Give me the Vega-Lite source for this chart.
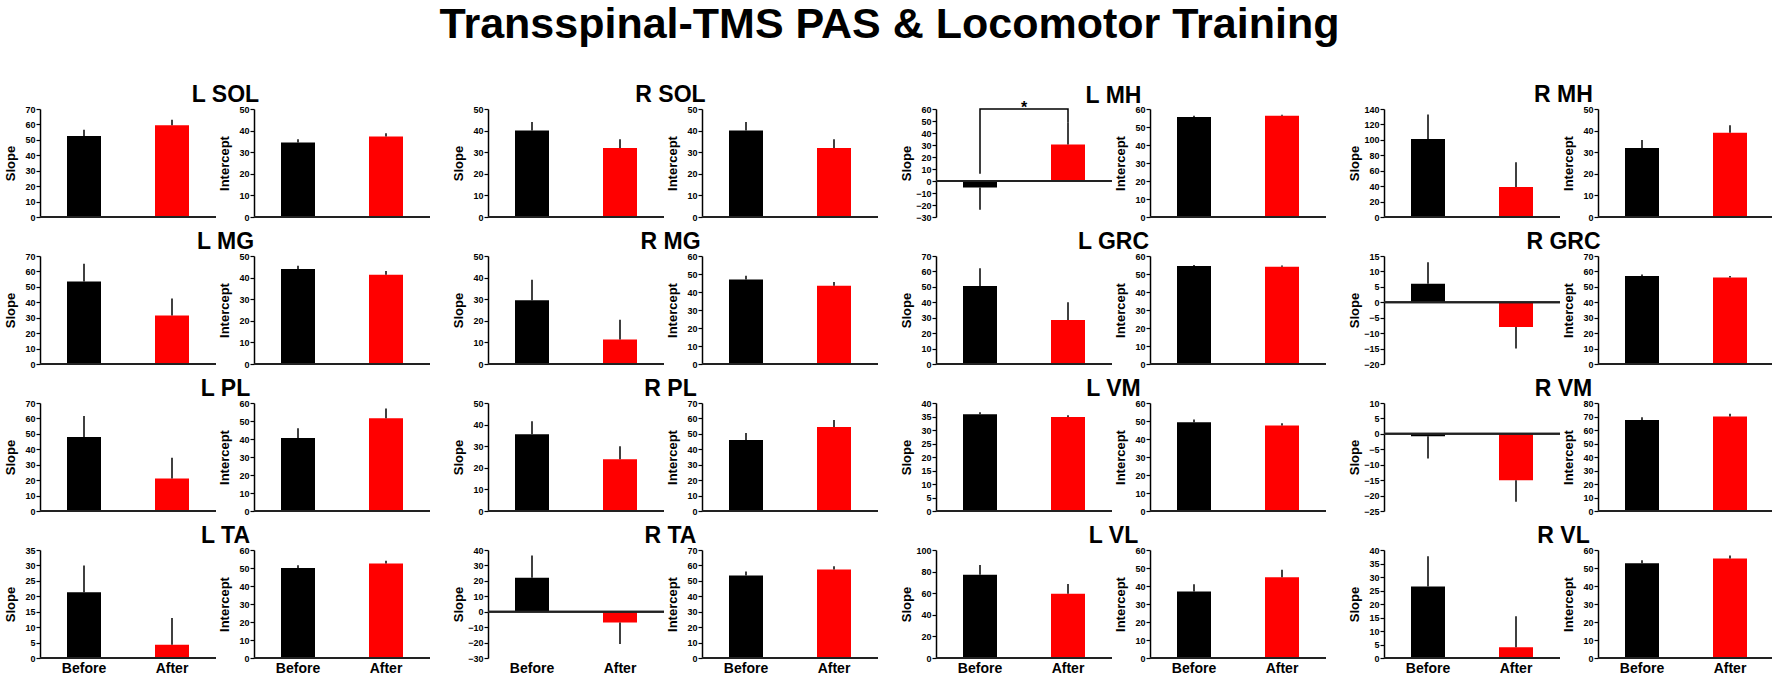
{
"$schema": "https://vega.github.io/schema/vega-lite/v6.json",
"padding": {"left": 4, "top": 4, "right": 2, "bottom": 2},
"title": {"text": "Transspinal-TMS PAS & Locomotor Training", "fontSize": 43, "offset": 37, "dx": 0, "dy": 0, "anchor": "middle"},
"data": {"values": [
{"m":"L SOL","k":"S","p":"Before","v":52.5,"h":56.5},{"m":"L SOL","k":"S","p":"After","v":59.5,"h":63},
{"m":"L SOL","k":"I","p":"Before","v":34.5,"h":36},{"m":"L SOL","k":"I","p":"After","v":37.3,"h":38.8},
{"m":"R SOL","k":"S","p":"Before","v":40,"h":44},{"m":"R SOL","k":"S","p":"After","v":32,"h":36},
{"m":"R SOL","k":"I","p":"Before","v":40,"h":44},{"m":"R SOL","k":"I","p":"After","v":32,"h":36},
{"m":"L MH","k":"S","p":"Before","v":-5.5,"h":-24},{"m":"L MH","k":"S","p":"After","v":30.5,"h":49},
{"m":"L MH","k":"I","p":"Before","v":55.5,"h":56.2},{"m":"L MH","k":"I","p":"After","v":56.2,"h":56.8},
{"m":"R MH","k":"S","p":"Before","v":101,"h":133},{"m":"R MH","k":"S","p":"After","v":39,"h":71},
{"m":"R MH","k":"I","p":"Before","v":32,"h":35.7},{"m":"R MH","k":"I","p":"After","v":39,"h":42.5},
{"m":"L MG","k":"S","p":"Before","v":53.5,"h":65},{"m":"L MG","k":"S","p":"After","v":31.5,"h":42.5},
{"m":"L MG","k":"I","p":"Before","v":44,"h":45.5},{"m":"L MG","k":"I","p":"After","v":41.3,"h":43},
{"m":"R MG","k":"S","p":"Before","v":29.5,"h":39},{"m":"R MG","k":"S","p":"After","v":11.3,"h":20.5},
{"m":"R MG","k":"I","p":"Before","v":47,"h":49},{"m":"R MG","k":"I","p":"After","v":43.5,"h":45.5},
{"m":"L GRC","k":"S","p":"Before","v":50.5,"h":62},{"m":"L GRC","k":"S","p":"After","v":28.5,"h":40},
{"m":"L GRC","k":"I","p":"Before","v":54.5,"h":55},{"m":"L GRC","k":"I","p":"After","v":54,"h":54.7},
{"m":"R GRC","k":"S","p":"Before","v":6,"h":13},{"m":"R GRC","k":"S","p":"After","v":-8,"h":-15},
{"m":"R GRC","k":"I","p":"Before","v":57,"h":58},{"m":"R GRC","k":"I","p":"After","v":56,"h":57},
{"m":"L PL","k":"S","p":"Before","v":48,"h":61.5},{"m":"L PL","k":"S","p":"After","v":21,"h":34.5},
{"m":"L PL","k":"I","p":"Before","v":40.5,"h":46},{"m":"L PL","k":"I","p":"After","v":51.5,"h":57},
{"m":"R PL","k":"S","p":"Before","v":35.5,"h":41.5},{"m":"R PL","k":"S","p":"After","v":24,"h":30},
{"m":"R PL","k":"I","p":"Before","v":46,"h":50.5},{"m":"R PL","k":"I","p":"After","v":54.5,"h":59},
{"m":"L VM","k":"S","p":"Before","v":35.8,"h":36.6},{"m":"L VM","k":"S","p":"After","v":34.8,"h":35.5},
{"m":"L VM","k":"I","p":"Before","v":49.3,"h":50.8},{"m":"L VM","k":"I","p":"After","v":47.5,"h":48.7},
{"m":"R VM","k":"S","p":"Before","v":-0.8,"h":-8},{"m":"R VM","k":"S","p":"After","v":-15,"h":-22},
{"m":"R VM","k":"I","p":"Before","v":67.5,"h":69.5},{"m":"R VM","k":"I","p":"After","v":70,"h":72},
{"m":"L TA","k":"S","p":"Before","v":21.3,"h":30},{"m":"L TA","k":"S","p":"After","v":4.3,"h":13},
{"m":"L TA","k":"I","p":"Before","v":50,"h":51.5},{"m":"L TA","k":"I","p":"After","v":52.5,"h":54},
{"m":"R TA","k":"S","p":"Before","v":22,"h":36.5},{"m":"R TA","k":"S","p":"After","v":-7,"h":-21},
{"m":"R TA","k":"I","p":"Before","v":53.5,"h":56},{"m":"R TA","k":"I","p":"After","v":57.3,"h":59.5},
{"m":"L VL","k":"S","p":"Before","v":77,"h":86},{"m":"L VL","k":"S","p":"After","v":59.5,"h":68.5},
{"m":"L VL","k":"I","p":"Before","v":37,"h":41},{"m":"L VL","k":"I","p":"After","v":44.8,"h":49},
{"m":"R VL","k":"S","p":"Before","v":26.5,"h":37.7},{"m":"R VL","k":"S","p":"After","v":4,"h":15.5},
{"m":"R VL","k":"I","p":"Before","v":52.7,"h":54.3},{"m":"R VL","k":"I","p":"After","v":55.3,"h":57}
]},
"spacing": 9,
"vconcat": [
{"spacing": 21, "hconcat": [
 {"title": {"text": "L SOL", "dx": 8, "dy": 6, "offset": 4}, "spacing": 1, "hconcat": [
  {"width":176,"height":108,"transform":[{"filter":"datum.m=='L SOL'&&datum.k=='S'"}],"layer":[
   {"mark":{"type":"bar","size":34},"encoding":{"x":{"field":"p","type":"nominal","sort":["Before","After"],"scale":{"paddingInner":0,"paddingOuter":0},"axis":null},"y":{"field":"v","type":"quantitative","scale":{"domain":[0,70]},"axis":{"title":"Slope","labelOverlap":false,"tickCount":20,"values":[0,10,20,30,40,50,60,70]}},"color":{"field":"p","type":"nominal","scale":{"domain":["Before","After"],"range":["#000000","#ff0000"]},"legend":null}}},
   {"mark":{"type":"rule","color":"#222","strokeWidth":2},"encoding":{"y":{"datum":0}}},
   {"mark":{"type":"rule","color":"#000","strokeWidth":1.5},"encoding":{"x":{"field":"p","type":"nominal","sort":["Before","After"],"scale":{"paddingInner":0,"paddingOuter":0},"axis":null},"y":{"field":"v","type":"quantitative"},"y2":{"field":"h"}}}]},
  {"width":176,"height":108,"transform":[{"filter":"datum.m=='L SOL'&&datum.k=='I'"}],"layer":[
   {"mark":{"type":"bar","size":34},"encoding":{"x":{"field":"p","type":"nominal","sort":["Before","After"],"scale":{"paddingInner":0,"paddingOuter":0},"axis":null},"y":{"field":"v","type":"quantitative","scale":{"domain":[0,50]},"axis":{"title":"Intercept","labelOverlap":false,"tickCount":20,"values":[0,10,20,30,40,50]}},"color":{"field":"p","type":"nominal","scale":{"domain":["Before","After"],"range":["#000000","#ff0000"]},"legend":null}}},
   {"mark":{"type":"rule","color":"#222","strokeWidth":2},"encoding":{"y":{"datum":0}}},
   {"mark":{"type":"rule","color":"#000","strokeWidth":1.5},"encoding":{"x":{"field":"p","type":"nominal","sort":["Before","After"],"scale":{"paddingInner":0,"paddingOuter":0},"axis":null},"y":{"field":"v","type":"quantitative"},"y2":{"field":"h"}}}]}
 ]},
 {"title": {"text": "R SOL", "dx": 5, "dy": 6, "offset": 4}, "spacing": 1, "hconcat": [
  {"width":176,"height":108,"transform":[{"filter":"datum.m=='R SOL'&&datum.k=='S'"}],"layer":[
   {"mark":{"type":"bar","size":34},"encoding":{"x":{"field":"p","type":"nominal","sort":["Before","After"],"scale":{"paddingInner":0,"paddingOuter":0},"axis":null},"y":{"field":"v","type":"quantitative","scale":{"domain":[0,50]},"axis":{"title":"Slope","labelOverlap":false,"tickCount":20,"values":[0,10,20,30,40,50]}},"color":{"field":"p","type":"nominal","scale":{"domain":["Before","After"],"range":["#000000","#ff0000"]},"legend":null}}},
   {"mark":{"type":"rule","color":"#222","strokeWidth":2},"encoding":{"y":{"datum":0}}},
   {"mark":{"type":"rule","color":"#000","strokeWidth":1.5},"encoding":{"x":{"field":"p","type":"nominal","sort":["Before","After"],"scale":{"paddingInner":0,"paddingOuter":0},"axis":null},"y":{"field":"v","type":"quantitative"},"y2":{"field":"h"}}}]},
  {"width":176,"height":108,"transform":[{"filter":"datum.m=='R SOL'&&datum.k=='I'"}],"layer":[
   {"mark":{"type":"bar","size":34},"encoding":{"x":{"field":"p","type":"nominal","sort":["Before","After"],"scale":{"paddingInner":0,"paddingOuter":0},"axis":null},"y":{"field":"v","type":"quantitative","scale":{"domain":[0,50]},"axis":{"title":"Intercept","labelOverlap":false,"tickCount":20,"values":[0,10,20,30,40,50]}},"color":{"field":"p","type":"nominal","scale":{"domain":["Before","After"],"range":["#000000","#ff0000"]},"legend":null}}},
   {"mark":{"type":"rule","color":"#222","strokeWidth":2},"encoding":{"y":{"datum":0}}},
   {"mark":{"type":"rule","color":"#000","strokeWidth":1.5},"encoding":{"x":{"field":"p","type":"nominal","sort":["Before","After"],"scale":{"paddingInner":0,"paddingOuter":0},"axis":null},"y":{"field":"v","type":"quantitative"},"y2":{"field":"h"}}}]}
 ]},
 {"title": {"text": "L MH", "dx": 0, "dy": 12, "offset": 4}, "spacing": 1, "hconcat": [
  {"width":176,"height":108,"transform":[{"filter":"datum.m=='L MH'&&datum.k=='S'"}],"layer":[
   {"mark":{"type":"bar","size":34},"encoding":{"x":{"field":"p","type":"nominal","sort":["Before","After"],"scale":{"paddingInner":0,"paddingOuter":0},"axis":null},"y":{"field":"v","type":"quantitative","scale":{"domain":[-30,60]},"axis":{"title":"Slope","labelOverlap":false,"tickCount":20,"values":[-30,-20,-10,0,10,20,30,40,50,60]}},"color":{"field":"p","type":"nominal","scale":{"domain":["Before","After"],"range":["#000000","#ff0000"]},"legend":null}}},
   {"mark":{"type":"rule","color":"#222","strokeWidth":2},"encoding":{"y":{"datum":0}}},
   {"mark":{"type":"rule","color":"#000","strokeWidth":1.5},"encoding":{"x":{"field":"p","type":"nominal","sort":["Before","After"],"scale":{"paddingInner":0,"paddingOuter":0},"axis":null},"y":{"field":"v","type":"quantitative"},"y2":{"field":"h"}}},
   {"data":{"values":[{"m":"L MH","k":"S","p":"Before","b":6,"o":1},{"m":"L MH","k":"S","p":"Before","b":60,"o":2},{"m":"L MH","k":"S","p":"After","b":60,"o":3},{"m":"L MH","k":"S","p":"After","b":49,"o":4}]},"mark":{"type":"line","color":"#000","strokeWidth":1.5},"encoding":{"x":{"field":"p","type":"nominal","sort":["Before","After"],"scale":{"paddingInner":0,"paddingOuter":0},"axis":null},"y":{"field":"b","type":"quantitative"},"order":{"field":"o","type":"quantitative"}}},
   {"data":{"values":[{"m":"L MH","k":"S","p":"Before","b":60,"t":"*"}]},"mark":{"type":"text","dx":44,"dy":4,"baseline":"alphabetic","fontSize":16,"fontWeight":"bold","color":"#000"},"encoding":{"x":{"field":"p","type":"nominal","sort":["Before","After"],"scale":{"paddingInner":0,"paddingOuter":0},"axis":null},"y":{"field":"b","type":"quantitative"},"text":{"field":"t","type":"nominal"}}}]},
  {"width":176,"height":108,"transform":[{"filter":"datum.m=='L MH'&&datum.k=='I'"}],"layer":[
   {"mark":{"type":"bar","size":34},"encoding":{"x":{"field":"p","type":"nominal","sort":["Before","After"],"scale":{"paddingInner":0,"paddingOuter":0},"axis":null},"y":{"field":"v","type":"quantitative","scale":{"domain":[0,60]},"axis":{"title":"Intercept","labelOverlap":false,"tickCount":20,"values":[0,10,20,30,40,50,60]}},"color":{"field":"p","type":"nominal","scale":{"domain":["Before","After"],"range":["#000000","#ff0000"]},"legend":null}}},
   {"mark":{"type":"rule","color":"#222","strokeWidth":2},"encoding":{"y":{"datum":0}}},
   {"mark":{"type":"rule","color":"#000","strokeWidth":1.5},"encoding":{"x":{"field":"p","type":"nominal","sort":["Before","After"],"scale":{"paddingInner":0,"paddingOuter":0},"axis":null},"y":{"field":"v","type":"quantitative"},"y2":{"field":"h"}}}]}
 ]},
 {"title": {"text": "R MH", "dx": 2, "dy": 6, "offset": 4}, "spacing": 1, "hconcat": [
  {"width":176,"height":108,"transform":[{"filter":"datum.m=='R MH'&&datum.k=='S'"}],"layer":[
   {"mark":{"type":"bar","size":34},"encoding":{"x":{"field":"p","type":"nominal","sort":["Before","After"],"scale":{"paddingInner":0,"paddingOuter":0},"axis":null},"y":{"field":"v","type":"quantitative","scale":{"domain":[0,140]},"axis":{"title":"Slope","labelOverlap":false,"tickCount":20,"values":[0,20,40,60,80,100,120,140]}},"color":{"field":"p","type":"nominal","scale":{"domain":["Before","After"],"range":["#000000","#ff0000"]},"legend":null}}},
   {"mark":{"type":"rule","color":"#222","strokeWidth":2},"encoding":{"y":{"datum":0}}},
   {"mark":{"type":"rule","color":"#000","strokeWidth":1.5},"encoding":{"x":{"field":"p","type":"nominal","sort":["Before","After"],"scale":{"paddingInner":0,"paddingOuter":0},"axis":null},"y":{"field":"v","type":"quantitative"},"y2":{"field":"h"}}}]},
  {"width":176,"height":108,"transform":[{"filter":"datum.m=='R MH'&&datum.k=='I'"}],"layer":[
   {"mark":{"type":"bar","size":34},"encoding":{"x":{"field":"p","type":"nominal","sort":["Before","After"],"scale":{"paddingInner":0,"paddingOuter":0},"axis":null},"y":{"field":"v","type":"quantitative","scale":{"domain":[0,50]},"axis":{"title":"Intercept","labelOverlap":false,"tickCount":20,"values":[0,10,20,30,40,50]}},"color":{"field":"p","type":"nominal","scale":{"domain":["Before","After"],"range":["#000000","#ff0000"]},"legend":null}}},
   {"mark":{"type":"rule","color":"#222","strokeWidth":2},"encoding":{"y":{"datum":0}}},
   {"mark":{"type":"rule","color":"#000","strokeWidth":1.5},"encoding":{"x":{"field":"p","type":"nominal","sort":["Before","After"],"scale":{"paddingInner":0,"paddingOuter":0},"axis":null},"y":{"field":"v","type":"quantitative"},"y2":{"field":"h"}}}]}
 ]}
]},
{"spacing": 21, "hconcat": [
 {"title": {"text": "L MG", "dx": 8, "dy": 6, "offset": 4}, "spacing": 1, "hconcat": [
  {"width":176,"height":108,"transform":[{"filter":"datum.m=='L MG'&&datum.k=='S'"}],"layer":[
   {"mark":{"type":"bar","size":34},"encoding":{"x":{"field":"p","type":"nominal","sort":["Before","After"],"scale":{"paddingInner":0,"paddingOuter":0},"axis":null},"y":{"field":"v","type":"quantitative","scale":{"domain":[0,70]},"axis":{"title":"Slope","labelOverlap":false,"tickCount":20,"values":[0,10,20,30,40,50,60,70]}},"color":{"field":"p","type":"nominal","scale":{"domain":["Before","After"],"range":["#000000","#ff0000"]},"legend":null}}},
   {"mark":{"type":"rule","color":"#222","strokeWidth":2},"encoding":{"y":{"datum":0}}},
   {"mark":{"type":"rule","color":"#000","strokeWidth":1.5},"encoding":{"x":{"field":"p","type":"nominal","sort":["Before","After"],"scale":{"paddingInner":0,"paddingOuter":0},"axis":null},"y":{"field":"v","type":"quantitative"},"y2":{"field":"h"}}}]},
  {"width":176,"height":108,"transform":[{"filter":"datum.m=='L MG'&&datum.k=='I'"}],"layer":[
   {"mark":{"type":"bar","size":34},"encoding":{"x":{"field":"p","type":"nominal","sort":["Before","After"],"scale":{"paddingInner":0,"paddingOuter":0},"axis":null},"y":{"field":"v","type":"quantitative","scale":{"domain":[0,50]},"axis":{"title":"Intercept","labelOverlap":false,"tickCount":20,"values":[0,10,20,30,40,50]}},"color":{"field":"p","type":"nominal","scale":{"domain":["Before","After"],"range":["#000000","#ff0000"]},"legend":null}}},
   {"mark":{"type":"rule","color":"#222","strokeWidth":2},"encoding":{"y":{"datum":0}}},
   {"mark":{"type":"rule","color":"#000","strokeWidth":1.5},"encoding":{"x":{"field":"p","type":"nominal","sort":["Before","After"],"scale":{"paddingInner":0,"paddingOuter":0},"axis":null},"y":{"field":"v","type":"quantitative"},"y2":{"field":"h"}}}]}
 ]},
 {"title": {"text": "R MG", "dx": 5, "dy": 6, "offset": 4}, "spacing": 1, "hconcat": [
  {"width":176,"height":108,"transform":[{"filter":"datum.m=='R MG'&&datum.k=='S'"}],"layer":[
   {"mark":{"type":"bar","size":34},"encoding":{"x":{"field":"p","type":"nominal","sort":["Before","After"],"scale":{"paddingInner":0,"paddingOuter":0},"axis":null},"y":{"field":"v","type":"quantitative","scale":{"domain":[0,50]},"axis":{"title":"Slope","labelOverlap":false,"tickCount":20,"values":[0,10,20,30,40,50]}},"color":{"field":"p","type":"nominal","scale":{"domain":["Before","After"],"range":["#000000","#ff0000"]},"legend":null}}},
   {"mark":{"type":"rule","color":"#222","strokeWidth":2},"encoding":{"y":{"datum":0}}},
   {"mark":{"type":"rule","color":"#000","strokeWidth":1.5},"encoding":{"x":{"field":"p","type":"nominal","sort":["Before","After"],"scale":{"paddingInner":0,"paddingOuter":0},"axis":null},"y":{"field":"v","type":"quantitative"},"y2":{"field":"h"}}}]},
  {"width":176,"height":108,"transform":[{"filter":"datum.m=='R MG'&&datum.k=='I'"}],"layer":[
   {"mark":{"type":"bar","size":34},"encoding":{"x":{"field":"p","type":"nominal","sort":["Before","After"],"scale":{"paddingInner":0,"paddingOuter":0},"axis":null},"y":{"field":"v","type":"quantitative","scale":{"domain":[0,60]},"axis":{"title":"Intercept","labelOverlap":false,"tickCount":20,"values":[0,10,20,30,40,50,60]}},"color":{"field":"p","type":"nominal","scale":{"domain":["Before","After"],"range":["#000000","#ff0000"]},"legend":null}}},
   {"mark":{"type":"rule","color":"#222","strokeWidth":2},"encoding":{"y":{"datum":0}}},
   {"mark":{"type":"rule","color":"#000","strokeWidth":1.5},"encoding":{"x":{"field":"p","type":"nominal","sort":["Before","After"],"scale":{"paddingInner":0,"paddingOuter":0},"axis":null},"y":{"field":"v","type":"quantitative"},"y2":{"field":"h"}}}]}
 ]},
 {"title": {"text": "L GRC", "dx": 0, "dy": 6, "offset": 4}, "spacing": 1, "hconcat": [
  {"width":176,"height":108,"transform":[{"filter":"datum.m=='L GRC'&&datum.k=='S'"}],"layer":[
   {"mark":{"type":"bar","size":34},"encoding":{"x":{"field":"p","type":"nominal","sort":["Before","After"],"scale":{"paddingInner":0,"paddingOuter":0},"axis":null},"y":{"field":"v","type":"quantitative","scale":{"domain":[0,70]},"axis":{"title":"Slope","labelOverlap":false,"tickCount":20,"values":[0,10,20,30,40,50,60,70]}},"color":{"field":"p","type":"nominal","scale":{"domain":["Before","After"],"range":["#000000","#ff0000"]},"legend":null}}},
   {"mark":{"type":"rule","color":"#222","strokeWidth":2},"encoding":{"y":{"datum":0}}},
   {"mark":{"type":"rule","color":"#000","strokeWidth":1.5},"encoding":{"x":{"field":"p","type":"nominal","sort":["Before","After"],"scale":{"paddingInner":0,"paddingOuter":0},"axis":null},"y":{"field":"v","type":"quantitative"},"y2":{"field":"h"}}}]},
  {"width":176,"height":108,"transform":[{"filter":"datum.m=='L GRC'&&datum.k=='I'"}],"layer":[
   {"mark":{"type":"bar","size":34},"encoding":{"x":{"field":"p","type":"nominal","sort":["Before","After"],"scale":{"paddingInner":0,"paddingOuter":0},"axis":null},"y":{"field":"v","type":"quantitative","scale":{"domain":[0,60]},"axis":{"title":"Intercept","labelOverlap":false,"tickCount":20,"values":[0,10,20,30,40,50,60]}},"color":{"field":"p","type":"nominal","scale":{"domain":["Before","After"],"range":["#000000","#ff0000"]},"legend":null}}},
   {"mark":{"type":"rule","color":"#222","strokeWidth":2},"encoding":{"y":{"datum":0}}},
   {"mark":{"type":"rule","color":"#000","strokeWidth":1.5},"encoding":{"x":{"field":"p","type":"nominal","sort":["Before","After"],"scale":{"paddingInner":0,"paddingOuter":0},"axis":null},"y":{"field":"v","type":"quantitative"},"y2":{"field":"h"}}}]}
 ]},
 {"title": {"text": "R GRC", "dx": 2, "dy": 6, "offset": 4}, "spacing": 1, "hconcat": [
  {"width":176,"height":108,"transform":[{"filter":"datum.m=='R GRC'&&datum.k=='S'"}],"layer":[
   {"mark":{"type":"bar","size":34},"encoding":{"x":{"field":"p","type":"nominal","sort":["Before","After"],"scale":{"paddingInner":0,"paddingOuter":0},"axis":null},"y":{"field":"v","type":"quantitative","scale":{"domain":[-20,15]},"axis":{"title":"Slope","labelOverlap":false,"tickCount":20,"values":[-20,-15,-10,-5,0,5,10,15]}},"color":{"field":"p","type":"nominal","scale":{"domain":["Before","After"],"range":["#000000","#ff0000"]},"legend":null}}},
   {"mark":{"type":"rule","color":"#222","strokeWidth":2},"encoding":{"y":{"datum":0}}},
   {"mark":{"type":"rule","color":"#000","strokeWidth":1.5},"encoding":{"x":{"field":"p","type":"nominal","sort":["Before","After"],"scale":{"paddingInner":0,"paddingOuter":0},"axis":null},"y":{"field":"v","type":"quantitative"},"y2":{"field":"h"}}}]},
  {"width":176,"height":108,"transform":[{"filter":"datum.m=='R GRC'&&datum.k=='I'"}],"layer":[
   {"mark":{"type":"bar","size":34},"encoding":{"x":{"field":"p","type":"nominal","sort":["Before","After"],"scale":{"paddingInner":0,"paddingOuter":0},"axis":null},"y":{"field":"v","type":"quantitative","scale":{"domain":[0,70]},"axis":{"title":"Intercept","labelOverlap":false,"tickCount":20,"values":[0,10,20,30,40,50,60,70]}},"color":{"field":"p","type":"nominal","scale":{"domain":["Before","After"],"range":["#000000","#ff0000"]},"legend":null}}},
   {"mark":{"type":"rule","color":"#222","strokeWidth":2},"encoding":{"y":{"datum":0}}},
   {"mark":{"type":"rule","color":"#000","strokeWidth":1.5},"encoding":{"x":{"field":"p","type":"nominal","sort":["Before","After"],"scale":{"paddingInner":0,"paddingOuter":0},"axis":null},"y":{"field":"v","type":"quantitative"},"y2":{"field":"h"}}}]}
 ]}
]},
{"spacing": 21, "hconcat": [
 {"title": {"text": "L PL", "dx": 8, "dy": 6, "offset": 4}, "spacing": 1, "hconcat": [
  {"width":176,"height":108,"transform":[{"filter":"datum.m=='L PL'&&datum.k=='S'"}],"layer":[
   {"mark":{"type":"bar","size":34},"encoding":{"x":{"field":"p","type":"nominal","sort":["Before","After"],"scale":{"paddingInner":0,"paddingOuter":0},"axis":null},"y":{"field":"v","type":"quantitative","scale":{"domain":[0,70]},"axis":{"title":"Slope","labelOverlap":false,"tickCount":20,"values":[0,10,20,30,40,50,60,70]}},"color":{"field":"p","type":"nominal","scale":{"domain":["Before","After"],"range":["#000000","#ff0000"]},"legend":null}}},
   {"mark":{"type":"rule","color":"#222","strokeWidth":2},"encoding":{"y":{"datum":0}}},
   {"mark":{"type":"rule","color":"#000","strokeWidth":1.5},"encoding":{"x":{"field":"p","type":"nominal","sort":["Before","After"],"scale":{"paddingInner":0,"paddingOuter":0},"axis":null},"y":{"field":"v","type":"quantitative"},"y2":{"field":"h"}}}]},
  {"width":176,"height":108,"transform":[{"filter":"datum.m=='L PL'&&datum.k=='I'"}],"layer":[
   {"mark":{"type":"bar","size":34},"encoding":{"x":{"field":"p","type":"nominal","sort":["Before","After"],"scale":{"paddingInner":0,"paddingOuter":0},"axis":null},"y":{"field":"v","type":"quantitative","scale":{"domain":[0,60]},"axis":{"title":"Intercept","labelOverlap":false,"tickCount":20,"values":[0,10,20,30,40,50,60]}},"color":{"field":"p","type":"nominal","scale":{"domain":["Before","After"],"range":["#000000","#ff0000"]},"legend":null}}},
   {"mark":{"type":"rule","color":"#222","strokeWidth":2},"encoding":{"y":{"datum":0}}},
   {"mark":{"type":"rule","color":"#000","strokeWidth":1.5},"encoding":{"x":{"field":"p","type":"nominal","sort":["Before","After"],"scale":{"paddingInner":0,"paddingOuter":0},"axis":null},"y":{"field":"v","type":"quantitative"},"y2":{"field":"h"}}}]}
 ]},
 {"title": {"text": "R PL", "dx": 5, "dy": 6, "offset": 4}, "spacing": 1, "hconcat": [
  {"width":176,"height":108,"transform":[{"filter":"datum.m=='R PL'&&datum.k=='S'"}],"layer":[
   {"mark":{"type":"bar","size":34},"encoding":{"x":{"field":"p","type":"nominal","sort":["Before","After"],"scale":{"paddingInner":0,"paddingOuter":0},"axis":null},"y":{"field":"v","type":"quantitative","scale":{"domain":[0,50]},"axis":{"title":"Slope","labelOverlap":false,"tickCount":20,"values":[0,10,20,30,40,50]}},"color":{"field":"p","type":"nominal","scale":{"domain":["Before","After"],"range":["#000000","#ff0000"]},"legend":null}}},
   {"mark":{"type":"rule","color":"#222","strokeWidth":2},"encoding":{"y":{"datum":0}}},
   {"mark":{"type":"rule","color":"#000","strokeWidth":1.5},"encoding":{"x":{"field":"p","type":"nominal","sort":["Before","After"],"scale":{"paddingInner":0,"paddingOuter":0},"axis":null},"y":{"field":"v","type":"quantitative"},"y2":{"field":"h"}}}]},
  {"width":176,"height":108,"transform":[{"filter":"datum.m=='R PL'&&datum.k=='I'"}],"layer":[
   {"mark":{"type":"bar","size":34},"encoding":{"x":{"field":"p","type":"nominal","sort":["Before","After"],"scale":{"paddingInner":0,"paddingOuter":0},"axis":null},"y":{"field":"v","type":"quantitative","scale":{"domain":[0,70]},"axis":{"title":"Intercept","labelOverlap":false,"tickCount":20,"values":[0,10,20,30,40,50,60,70]}},"color":{"field":"p","type":"nominal","scale":{"domain":["Before","After"],"range":["#000000","#ff0000"]},"legend":null}}},
   {"mark":{"type":"rule","color":"#222","strokeWidth":2},"encoding":{"y":{"datum":0}}},
   {"mark":{"type":"rule","color":"#000","strokeWidth":1.5},"encoding":{"x":{"field":"p","type":"nominal","sort":["Before","After"],"scale":{"paddingInner":0,"paddingOuter":0},"axis":null},"y":{"field":"v","type":"quantitative"},"y2":{"field":"h"}}}]}
 ]},
 {"title": {"text": "L VM", "dx": 0, "dy": 6, "offset": 4}, "spacing": 1, "hconcat": [
  {"width":176,"height":108,"transform":[{"filter":"datum.m=='L VM'&&datum.k=='S'"}],"layer":[
   {"mark":{"type":"bar","size":34},"encoding":{"x":{"field":"p","type":"nominal","sort":["Before","After"],"scale":{"paddingInner":0,"paddingOuter":0},"axis":null},"y":{"field":"v","type":"quantitative","scale":{"domain":[0,40]},"axis":{"title":"Slope","labelOverlap":false,"tickCount":20,"values":[0,5,10,15,20,25,30,35,40]}},"color":{"field":"p","type":"nominal","scale":{"domain":["Before","After"],"range":["#000000","#ff0000"]},"legend":null}}},
   {"mark":{"type":"rule","color":"#222","strokeWidth":2},"encoding":{"y":{"datum":0}}},
   {"mark":{"type":"rule","color":"#000","strokeWidth":1.5},"encoding":{"x":{"field":"p","type":"nominal","sort":["Before","After"],"scale":{"paddingInner":0,"paddingOuter":0},"axis":null},"y":{"field":"v","type":"quantitative"},"y2":{"field":"h"}}}]},
  {"width":176,"height":108,"transform":[{"filter":"datum.m=='L VM'&&datum.k=='I'"}],"layer":[
   {"mark":{"type":"bar","size":34},"encoding":{"x":{"field":"p","type":"nominal","sort":["Before","After"],"scale":{"paddingInner":0,"paddingOuter":0},"axis":null},"y":{"field":"v","type":"quantitative","scale":{"domain":[0,60]},"axis":{"title":"Intercept","labelOverlap":false,"tickCount":20,"values":[0,10,20,30,40,50,60]}},"color":{"field":"p","type":"nominal","scale":{"domain":["Before","After"],"range":["#000000","#ff0000"]},"legend":null}}},
   {"mark":{"type":"rule","color":"#222","strokeWidth":2},"encoding":{"y":{"datum":0}}},
   {"mark":{"type":"rule","color":"#000","strokeWidth":1.5},"encoding":{"x":{"field":"p","type":"nominal","sort":["Before","After"],"scale":{"paddingInner":0,"paddingOuter":0},"axis":null},"y":{"field":"v","type":"quantitative"},"y2":{"field":"h"}}}]}
 ]},
 {"title": {"text": "R VM", "dx": 2, "dy": 6, "offset": 4}, "spacing": 1, "hconcat": [
  {"width":176,"height":108,"transform":[{"filter":"datum.m=='R VM'&&datum.k=='S'"}],"layer":[
   {"mark":{"type":"bar","size":34},"encoding":{"x":{"field":"p","type":"nominal","sort":["Before","After"],"scale":{"paddingInner":0,"paddingOuter":0},"axis":null},"y":{"field":"v","type":"quantitative","scale":{"domain":[-25,10]},"axis":{"title":"Slope","labelOverlap":false,"tickCount":20,"values":[-25,-20,-15,-10,-5,0,5,10]}},"color":{"field":"p","type":"nominal","scale":{"domain":["Before","After"],"range":["#000000","#ff0000"]},"legend":null}}},
   {"mark":{"type":"rule","color":"#222","strokeWidth":2},"encoding":{"y":{"datum":0}}},
   {"mark":{"type":"rule","color":"#000","strokeWidth":1.5},"encoding":{"x":{"field":"p","type":"nominal","sort":["Before","After"],"scale":{"paddingInner":0,"paddingOuter":0},"axis":null},"y":{"field":"v","type":"quantitative"},"y2":{"field":"h"}}}]},
  {"width":176,"height":108,"transform":[{"filter":"datum.m=='R VM'&&datum.k=='I'"}],"layer":[
   {"mark":{"type":"bar","size":34},"encoding":{"x":{"field":"p","type":"nominal","sort":["Before","After"],"scale":{"paddingInner":0,"paddingOuter":0},"axis":null},"y":{"field":"v","type":"quantitative","scale":{"domain":[0,80]},"axis":{"title":"Intercept","labelOverlap":false,"tickCount":20,"values":[0,10,20,30,40,50,60,70,80]}},"color":{"field":"p","type":"nominal","scale":{"domain":["Before","After"],"range":["#000000","#ff0000"]},"legend":null}}},
   {"mark":{"type":"rule","color":"#222","strokeWidth":2},"encoding":{"y":{"datum":0}}},
   {"mark":{"type":"rule","color":"#000","strokeWidth":1.5},"encoding":{"x":{"field":"p","type":"nominal","sort":["Before","After"],"scale":{"paddingInner":0,"paddingOuter":0},"axis":null},"y":{"field":"v","type":"quantitative"},"y2":{"field":"h"}}}]}
 ]}
]},
{"spacing": 21, "hconcat": [
 {"title": {"text": "L TA", "dx": 8, "dy": 6, "offset": 4}, "spacing": 1, "hconcat": [
  {"width":176,"height":108,"transform":[{"filter":"datum.m=='L TA'&&datum.k=='S'"}],"layer":[
   {"mark":{"type":"bar","size":34},"encoding":{"x":{"field":"p","type":"nominal","sort":["Before","After"],"scale":{"paddingInner":0,"paddingOuter":0},"axis":{"title":null}},"y":{"field":"v","type":"quantitative","scale":{"domain":[0,35]},"axis":{"title":"Slope","labelOverlap":false,"tickCount":20,"values":[0,5,10,15,20,25,30,35]}},"color":{"field":"p","type":"nominal","scale":{"domain":["Before","After"],"range":["#000000","#ff0000"]},"legend":null}}},
   {"mark":{"type":"rule","color":"#222","strokeWidth":2},"encoding":{"y":{"datum":0}}},
   {"mark":{"type":"rule","color":"#000","strokeWidth":1.5},"encoding":{"x":{"field":"p","type":"nominal","sort":["Before","After"],"scale":{"paddingInner":0,"paddingOuter":0},"axis":{"title":null}},"y":{"field":"v","type":"quantitative"},"y2":{"field":"h"}}}]},
  {"width":176,"height":108,"transform":[{"filter":"datum.m=='L TA'&&datum.k=='I'"}],"layer":[
   {"mark":{"type":"bar","size":34},"encoding":{"x":{"field":"p","type":"nominal","sort":["Before","After"],"scale":{"paddingInner":0,"paddingOuter":0},"axis":{"title":null}},"y":{"field":"v","type":"quantitative","scale":{"domain":[0,60]},"axis":{"title":"Intercept","labelOverlap":false,"tickCount":20,"values":[0,10,20,30,40,50,60]}},"color":{"field":"p","type":"nominal","scale":{"domain":["Before","After"],"range":["#000000","#ff0000"]},"legend":null}}},
   {"mark":{"type":"rule","color":"#222","strokeWidth":2},"encoding":{"y":{"datum":0}}},
   {"mark":{"type":"rule","color":"#000","strokeWidth":1.5},"encoding":{"x":{"field":"p","type":"nominal","sort":["Before","After"],"scale":{"paddingInner":0,"paddingOuter":0},"axis":{"title":null}},"y":{"field":"v","type":"quantitative"},"y2":{"field":"h"}}}]}
 ]},
 {"title": {"text": "R TA", "dx": 5, "dy": 6, "offset": 4}, "spacing": 1, "hconcat": [
  {"width":176,"height":108,"transform":[{"filter":"datum.m=='R TA'&&datum.k=='S'"}],"layer":[
   {"mark":{"type":"bar","size":34},"encoding":{"x":{"field":"p","type":"nominal","sort":["Before","After"],"scale":{"paddingInner":0,"paddingOuter":0},"axis":{"title":null}},"y":{"field":"v","type":"quantitative","scale":{"domain":[-30,40]},"axis":{"title":"Slope","labelOverlap":false,"tickCount":20,"values":[-30,-20,-10,0,10,20,30,40]}},"color":{"field":"p","type":"nominal","scale":{"domain":["Before","After"],"range":["#000000","#ff0000"]},"legend":null}}},
   {"mark":{"type":"rule","color":"#222","strokeWidth":2},"encoding":{"y":{"datum":0}}},
   {"mark":{"type":"rule","color":"#000","strokeWidth":1.5},"encoding":{"x":{"field":"p","type":"nominal","sort":["Before","After"],"scale":{"paddingInner":0,"paddingOuter":0},"axis":{"title":null}},"y":{"field":"v","type":"quantitative"},"y2":{"field":"h"}}}]},
  {"width":176,"height":108,"transform":[{"filter":"datum.m=='R TA'&&datum.k=='I'"}],"layer":[
   {"mark":{"type":"bar","size":34},"encoding":{"x":{"field":"p","type":"nominal","sort":["Before","After"],"scale":{"paddingInner":0,"paddingOuter":0},"axis":{"title":null}},"y":{"field":"v","type":"quantitative","scale":{"domain":[0,70]},"axis":{"title":"Intercept","labelOverlap":false,"tickCount":20,"values":[0,10,20,30,40,50,60,70]}},"color":{"field":"p","type":"nominal","scale":{"domain":["Before","After"],"range":["#000000","#ff0000"]},"legend":null}}},
   {"mark":{"type":"rule","color":"#222","strokeWidth":2},"encoding":{"y":{"datum":0}}},
   {"mark":{"type":"rule","color":"#000","strokeWidth":1.5},"encoding":{"x":{"field":"p","type":"nominal","sort":["Before","After"],"scale":{"paddingInner":0,"paddingOuter":0},"axis":{"title":null}},"y":{"field":"v","type":"quantitative"},"y2":{"field":"h"}}}]}
 ]},
 {"title": {"text": "L VL", "dx": 0, "dy": 6, "offset": 4}, "spacing": 1, "hconcat": [
  {"width":176,"height":108,"transform":[{"filter":"datum.m=='L VL'&&datum.k=='S'"}],"layer":[
   {"mark":{"type":"bar","size":34},"encoding":{"x":{"field":"p","type":"nominal","sort":["Before","After"],"scale":{"paddingInner":0,"paddingOuter":0},"axis":{"title":null}},"y":{"field":"v","type":"quantitative","scale":{"domain":[0,100]},"axis":{"title":"Slope","labelOverlap":false,"tickCount":20,"values":[0,20,40,60,80,100]}},"color":{"field":"p","type":"nominal","scale":{"domain":["Before","After"],"range":["#000000","#ff0000"]},"legend":null}}},
   {"mark":{"type":"rule","color":"#222","strokeWidth":2},"encoding":{"y":{"datum":0}}},
   {"mark":{"type":"rule","color":"#000","strokeWidth":1.5},"encoding":{"x":{"field":"p","type":"nominal","sort":["Before","After"],"scale":{"paddingInner":0,"paddingOuter":0},"axis":{"title":null}},"y":{"field":"v","type":"quantitative"},"y2":{"field":"h"}}}]},
  {"width":176,"height":108,"transform":[{"filter":"datum.m=='L VL'&&datum.k=='I'"}],"layer":[
   {"mark":{"type":"bar","size":34},"encoding":{"x":{"field":"p","type":"nominal","sort":["Before","After"],"scale":{"paddingInner":0,"paddingOuter":0},"axis":{"title":null}},"y":{"field":"v","type":"quantitative","scale":{"domain":[0,60]},"axis":{"title":"Intercept","labelOverlap":false,"tickCount":20,"values":[0,10,20,30,40,50,60]}},"color":{"field":"p","type":"nominal","scale":{"domain":["Before","After"],"range":["#000000","#ff0000"]},"legend":null}}},
   {"mark":{"type":"rule","color":"#222","strokeWidth":2},"encoding":{"y":{"datum":0}}},
   {"mark":{"type":"rule","color":"#000","strokeWidth":1.5},"encoding":{"x":{"field":"p","type":"nominal","sort":["Before","After"],"scale":{"paddingInner":0,"paddingOuter":0},"axis":{"title":null}},"y":{"field":"v","type":"quantitative"},"y2":{"field":"h"}}}]}
 ]},
 {"title": {"text": "R VL", "dx": 2, "dy": 6, "offset": 4}, "spacing": 1, "hconcat": [
  {"width":176,"height":108,"transform":[{"filter":"datum.m=='R VL'&&datum.k=='S'"}],"layer":[
   {"mark":{"type":"bar","size":34},"encoding":{"x":{"field":"p","type":"nominal","sort":["Before","After"],"scale":{"paddingInner":0,"paddingOuter":0},"axis":{"title":null}},"y":{"field":"v","type":"quantitative","scale":{"domain":[0,40]},"axis":{"title":"Slope","labelOverlap":false,"tickCount":20,"values":[0,5,10,15,20,25,30,35,40]}},"color":{"field":"p","type":"nominal","scale":{"domain":["Before","After"],"range":["#000000","#ff0000"]},"legend":null}}},
   {"mark":{"type":"rule","color":"#222","strokeWidth":2},"encoding":{"y":{"datum":0}}},
   {"mark":{"type":"rule","color":"#000","strokeWidth":1.5},"encoding":{"x":{"field":"p","type":"nominal","sort":["Before","After"],"scale":{"paddingInner":0,"paddingOuter":0},"axis":{"title":null}},"y":{"field":"v","type":"quantitative"},"y2":{"field":"h"}}}]},
  {"width":176,"height":108,"transform":[{"filter":"datum.m=='R VL'&&datum.k=='I'"}],"layer":[
   {"mark":{"type":"bar","size":34},"encoding":{"x":{"field":"p","type":"nominal","sort":["Before","After"],"scale":{"paddingInner":0,"paddingOuter":0},"axis":{"title":null}},"y":{"field":"v","type":"quantitative","scale":{"domain":[0,60]},"axis":{"title":"Intercept","labelOverlap":false,"tickCount":20,"values":[0,10,20,30,40,50,60]}},"color":{"field":"p","type":"nominal","scale":{"domain":["Before","After"],"range":["#000000","#ff0000"]},"legend":null}}},
   {"mark":{"type":"rule","color":"#222","strokeWidth":2},"encoding":{"y":{"datum":0}}},
   {"mark":{"type":"rule","color":"#000","strokeWidth":1.5},"encoding":{"x":{"field":"p","type":"nominal","sort":["Before","After"],"scale":{"paddingInner":0,"paddingOuter":0},"axis":{"title":null}},"y":{"field":"v","type":"quantitative"},"y2":{"field":"h"}}}]}
 ]}
]}
],
"config": {
 "view": {"stroke": null},
 "font": "Liberation Sans",
 "axis": {"grid": false, "labelFont": "Liberation Sans", "labelFontWeight": "bold", "labelColor": "#000", "titleFont": "Liberation Sans", "titleFontWeight": "bold", "titleColor": "#000", "domainColor": "#000", "tickColor": "#000"},
 "axisY": {"labelFontSize": 9, "titleFontSize": 13, "tickSize": 4, "labelPadding": 1, "minExtent": 16, "maxExtent": 16, "titlePadding": 7, "domainWidth": 1.5, "tickWidth": 1.2, "labelOverlap": false},
 "axisX": {"labelFontSize": 14, "labelPadding": 3, "domain": false, "ticks": false, "labelAngle": 0},
 "title": {"fontSize": 23, "fontWeight": "bold", "font": "Liberation Sans", "color": "#000", "anchor": "middle"}
}
}
